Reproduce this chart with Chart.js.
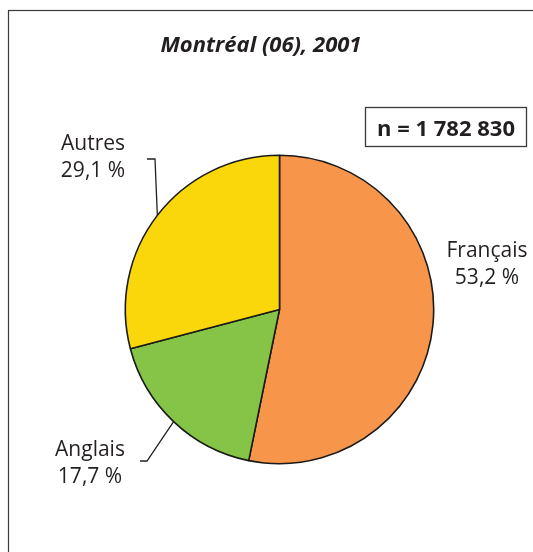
<!DOCTYPE html>
<html lang="fr">
<head>
<meta charset="utf-8">
<title>Montréal (06), 2001</title>
<script src="https://cdn.jsdelivr.net/npm/chart.js@4/dist/chart.umd.min.js"></script>
<style>
  html, body { margin: 0; padding: 0; background: #ffffff; }
  canvas { display: block; }
</style>
</head>
<body>
<canvas id="pie" width="533" height="552"></canvas>
<script>
// Langue maternelle, Montréal (06), 2001
const categories = ['Français', 'Anglais', 'Autres'];
const shares = [53.2, 17.7, 29.1];
const sliceColors = ['#F7964A', '#85C446', '#F9D70B'];
const chartTitle = 'Montréal (06), 2001';
const sampleSize = 'n = 1 782 830';

const INK = '#231F20';
const FONT = '"Open Sans", "Noto Sans", sans-serif';

// Label placement (text centre, first baseline) and optional leader elbow
const labelLayout = [
  { x: 487, y: 257, leader: null },
  { x: 90,  y: 456, leader: [[140, 461], [147, 461]] },
  { x: 93,  y: 150, leader: [[147, 159], [155, 159]] }
];

function fmtPct(v) {
  return v.toFixed(1).replace('.', ',') + ' %';
}

const decorations = {
  id: 'decorations',
  afterDraw(chart) {
    const ctx = chart.ctx;
    ctx.save();

    // outer frame
    ctx.strokeStyle = '#3a3a3a';
    ctx.lineWidth = 1.2;
    ctx.strokeRect(8.5, 10.5, 700, 700);

    // title
    ctx.fillStyle = INK;
    ctx.font = 'italic bold 22px ' + FONT;
    ctx.textAlign = 'center';
    ctx.textBaseline = 'alphabetic';
    ctx.fillText(chartTitle, 261, 52);

    // sample size box
    ctx.font = 'bold 22px ' + FONT;
    ctx.fillText(sampleSize, 446, 136);
    ctx.lineWidth = 1.3;
    ctx.strokeStyle = '#3a3a3a';
    ctx.strokeRect(365.5, 107.5, 161, 39);

    // slice labels with leaders to the arc mid-points
    const meta = chart.getDatasetMeta(0);
    ctx.font = '21px ' + FONT;
    meta.data.forEach((arc, i) => {
      const lay = labelLayout[i];
      ctx.fillStyle = INK;
      ctx.fillText(categories[i], lay.x, lay.y);
      ctx.fillText(fmtPct(shares[i]), lay.x, lay.y + 27);
      if (lay.leader) {
        const p = arc.getProps(['x', 'y', 'startAngle', 'endAngle', 'outerRadius'], true);
        const mid = (p.startAngle + p.endAngle) / 2;
        const ex = p.x + Math.cos(mid) * p.outerRadius;
        const ey = p.y + Math.sin(mid) * p.outerRadius;
        ctx.beginPath();
        ctx.strokeStyle = INK;
        ctx.lineWidth = 1.3;
        ctx.moveTo(lay.leader[0][0], lay.leader[0][1]);
        ctx.lineTo(lay.leader[1][0], lay.leader[1][1]);
        ctx.lineTo(ex, ey);
        ctx.stroke();
      }
    });
    ctx.restore();
  }
};

new Chart(document.getElementById('pie'), {
  type: 'pie',
  data: {
    labels: categories,
    datasets: [{
      data: shares,
      backgroundColor: sliceColors,
      borderColor: '#1a1a1a',
      borderWidth: 1.6,
      hoverOffset: 0,
      offset: 0
    }]
  },
  options: {
    responsive: false,
    animation: false,
    events: [],
    layout: { padding: { left: 124.5, top: 154.5, right: 98.5, bottom: 87.5 } },
    plugins: {
      legend: { display: false },
      title: { display: false },
      tooltip: { enabled: false }
    }
  },
  plugins: [decorations]
});
</script>
</body>
</html>
